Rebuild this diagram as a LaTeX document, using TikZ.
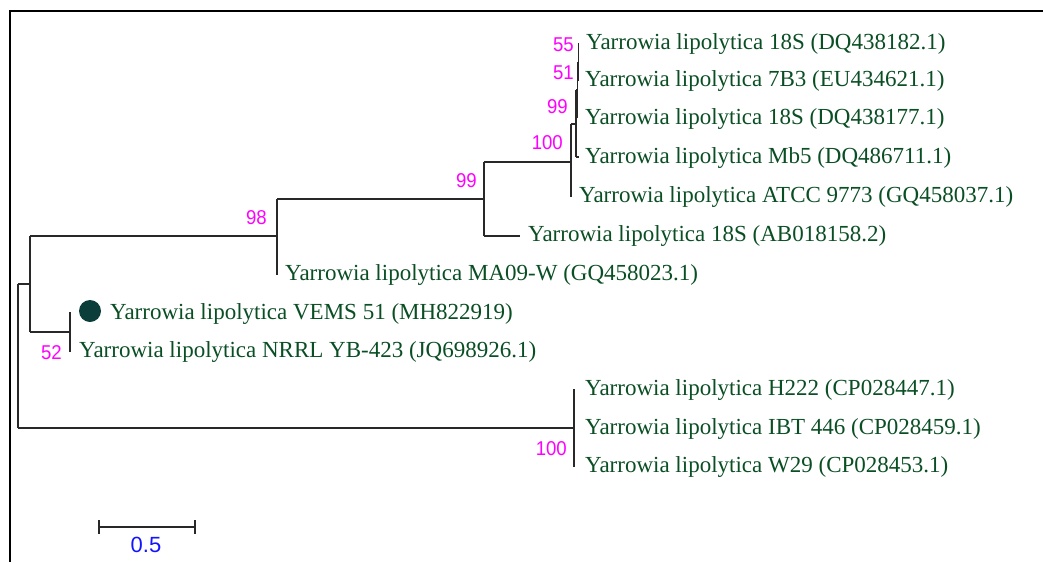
\documentclass[tikz,border=0pt]{standalone}
\usepackage{fontspec}
\setmainfont{Liberation Serif}
\newfontfamily\labelsans{Liberation Sans}
\definecolor{leafgreen}{RGB}{10,78,36}
\definecolor{bootmag}{RGB}{255,0,255}
\definecolor{scaleblue}{RGB}{20,20,255}
\definecolor{dotteal}{RGB}{11,61,58}
\definecolor{branchgray}{RGB}{40,40,40}
\tikzset{
  leaf/.style={anchor=base west, inner sep=0pt, text=leafgreen,
    font=\fontsize{23pt}{27pt}\selectfont},
  boot/.style={anchor=east, inner sep=0pt, text=bootmag,
    font=\labelsans\fontsize{20pt}{24pt}\selectfont},
  branch/.style={draw=branchgray, line width=1.5pt},
  frameline/.style={draw=black, line width=2pt},
}
\newcommand\bootnum[1]{\scalebox{0.93}[1]{#1}}
\begin{document}
\begin{tikzpicture}[x=1pt, y=-1pt]
\useasboundingbox (0,0) rectangle (1043,562);
% outer frame (top and left edges)
\draw[frameline] (1043,11) -- (10,11) -- (10,562);

% internal nodes: top and bottom of each vertical bar, and the point where the parent branch joins
\coordinate (r1) at (18,284);  \coordinate (r2) at (18,428);
\coordinate (a1) at (30,236);  \coordinate (a2) at (30,332);  \coordinate (a) at (30,284);
\coordinate (b1) at (277,199); \coordinate (b2) at (277,275); \coordinate (b) at (277,236);
\coordinate (c1) at (484,162); \coordinate (c2) at (484,236); \coordinate (c) at (484,199);
\coordinate (d1) at (571,124); \coordinate (d2) at (571,197); \coordinate (d) at (571,162);
\coordinate (e1) at (576,90);  \coordinate (e2) at (576,157); \coordinate (e) at (576,124);
\coordinate (h1) at (577.5,62); \coordinate (h2) at (577.5,118); \coordinate (h) at (577.5,90);
\coordinate (i1) at (578.5,43); \coordinate (i2) at (578.5,81); \coordinate (i) at (578.5,62);
\coordinate (f1) at (70,312);  \coordinate (f2) at (70,352);  \coordinate (f) at (70,332);
\coordinate (g1) at (574,389); \coordinate (g2) at (574,467); \coordinate (g) at (574,428);
% leaf tips with a branch of their own
\coordinate (t4) at (579,157);
\coordinate (t6) at (520,236);

% vertical bars
\foreach \n in {r,a,b,c,d,e,h,i,f,g} \draw[branch] (\n1) -- (\n2);
% horizontal branches
\draw[branch] (r1) -- (a);
\draw[branch] (r2) -- (g);
\draw[branch] (a1) -- (b);
\draw[branch] (a2) -- (f);
\draw[branch] (b1) -- (c);
\draw[branch] (c1) -- (d);
\draw[branch] (c2) -- (t6);
\draw[branch] (d1) -- (e);
\draw[branch] (e1) -- (h);
\draw[branch] (h1) -- (i);
\draw[branch] (e2) -- (t4);

% taxa
\node[leaf] (l1)  at (586,49)  {Yarrowia lipolytica 18S (DQ438182.1)};
\node[leaf] (l2)  at (585,86)  {Yarrowia lipolytica 7B3 (EU434621.1)};
\node[leaf] (l3)  at (585,124) {Yarrowia lipolytica 18S (DQ438177.1)};
\node[leaf] (l4)  at (585,163) {Yarrowia lipolytica Mb5 (DQ486711.1)};
\node[leaf] (l5)  at (579,202) {Yarrowia lipolytica ATCC 9773 (GQ458037.1)};
\node[leaf] (l6)  at (528,241) {Yarrowia lipolytica 18S (AB018158.2)};
\node[leaf] (l7)  at (285,280) {Yarrowia lipolytica MA09-W (GQ458023.1)};
\node[circle, fill=dotteal, inner sep=0pt, minimum size=22pt] (mark) at (90,311) {};
\node[leaf] (l8)  at (110,319) {Yarrowia lipolytica VEMS 51 (MH822919)};
\node[leaf] (l9)  at (79,357)  {Yarrowia lipolytica NRRL YB-423 (JQ698926.1)};
\node[leaf] (l10) at (585,395) {Yarrowia lipolytica H222 (CP028447.1)};
\node[leaf] (l11) at (585,434) {Yarrowia lipolytica IBT 446 (CP028459.1)};
\node[leaf] (l12) at (585,472) {Yarrowia lipolytica W29 (CP028453.1)};

% bootstrap values
\node[boot] (s55)  at (574,45)  {\bootnum{55}};
\node[boot] (s51)  at (574,73)  {\bootnum{51}};
\node[boot] (s99a) at (568,107) {\bootnum{99}};
\node[boot] (s100a) at (563,143) {\bootnum{100}};
\node[boot] (s99b) at (477,181) {\bootnum{99}};
\node[boot] (s98)  at (267,218) {\bootnum{98}};
\node[boot] (s52)  at (62,353)  {\bootnum{52}};
\node[boot] (s100b) at (567,449) {\bootnum{100}};

% scale bar
\coordinate (sb1) at (99,527);
\coordinate (sb2) at (195,527);
\draw[branch] (sb1) -- (sb2);
\draw[branch] ([yshift=-7pt]sb1) -- ([yshift=7pt]sb1);
\draw[branch] ([yshift=-7pt]sb2) -- ([yshift=7pt]sb2);
\node[inner sep=0pt, text=scaleblue, font=\labelsans\fontsize{22pt}{26pt}\selectfont] (sbl) at (146,545) {0.5};
\end{tikzpicture}
\end{document}
